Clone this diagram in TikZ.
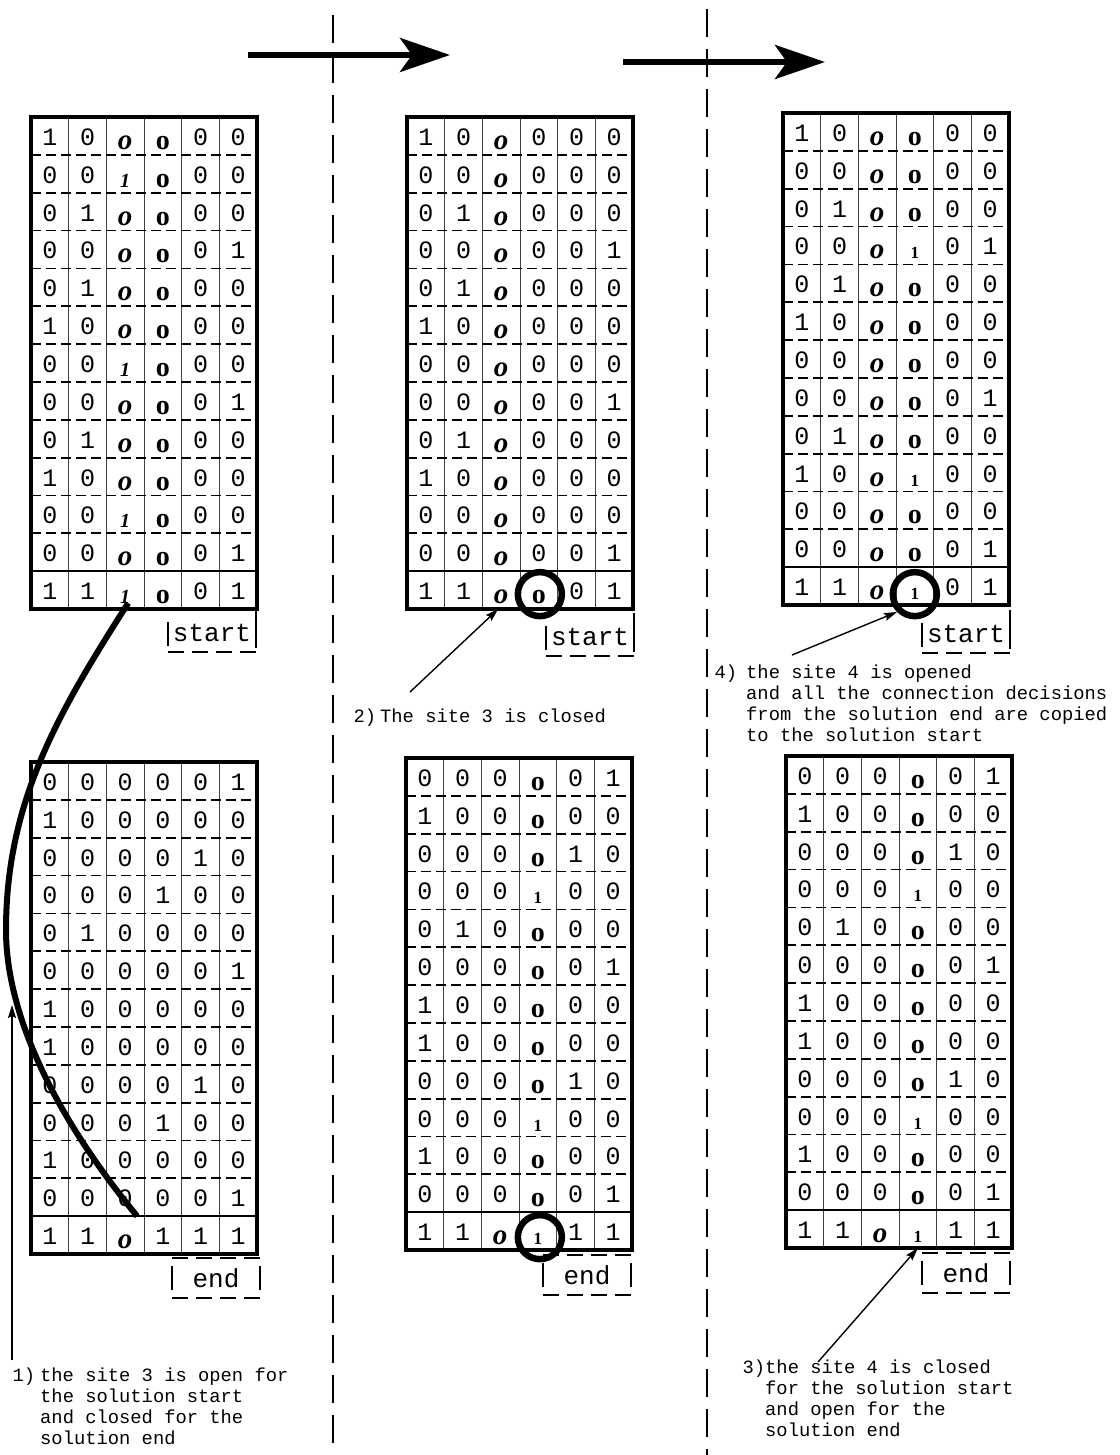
\documentclass[tikz,border=0pt]{standalone}
\usepackage{fontspec}
\usetikzlibrary{matrix,arrows.meta,calc}
\newfontfamily\digfont{Liberation Mono}
\newfontfamily\labfont{Liberation Mono}
\newfontfamily\serfont{Liberation Serif}
\newcommand\cio{\raisebox{-4pt}{\serfont\bfseries\itshape\fontsize{29}{29}\selectfont o}}
\newcommand\cbo{\raisebox{-4pt}{\serfont\bfseries\fontsize{28}{28}\selectfont o}}
\newcommand\cil{\raisebox{-4pt}{\serfont\bfseries\itshape\fontsize{20}{20}\selectfont 1}}
\newcommand\cbl{\raisebox{-4pt}{\serfont\bfseries\fontsize{17}{17}\selectfont 1}}
\tikzset{
  tab/.style={matrix of nodes, inner sep=0pt, outer sep=0pt, column sep=0pt, row sep=0pt, anchor=north west,
    nodes={inner sep=0pt, outer sep=0pt, minimum width=37.67pt, minimum height=37.85pt,
      text height=19pt, text depth=0pt, anchor=center, font=\digfont\fontsize{25}{25}\selectfont}},
  border/.style={line width=4.5pt},
  colline/.style={line width=0.9pt, black!75},
  rowdash/.style={line width=1.8pt, dash pattern=on 10pt off 5pt},
  rowsolid/.style={line width=1.6pt},
  divider/.style={line width=2pt, dash pattern=on 28pt off 12pt},
  bigarrow/.style={line width=6pt, -{Stealth[length=50pt,width=34pt,inset=12pt]}},
  thinarrow/.style={line width=1.4pt, -{Stealth[length=13pt,width=8pt,inset=2pt]}},
  bigcurve/.style={line width=6pt},
  lab/.style={inner sep=0pt, anchor=north west, align=left, font=\labfont\fontsize{18.8}{21}\selectfont},
  circmark/.style={draw, circle, line width=6.5pt, minimum size=44pt, inner sep=0pt},
  tag/.style={inner sep=0pt, minimum width=88pt, minimum height=40pt, font=\labfont\fontsize{26}{26}\selectfont},
  tagdash/.style={line width=1.6pt, dash pattern=on 16pt off 8pt},
  tagbar/.style={line width=1.6pt},
}
\newcommand\tabgrid[1]{%
  \foreach \c in {1,...,5} \draw[colline] (#1-1-\c.north east) -- (#1-13-\c.south east);
  \foreach \r in {1,...,11} \draw[rowdash] (#1-\r-1.south west) -- (#1-\r-6.south east);
  \draw[rowsolid] (#1-12-1.south west) -- (#1-12-6.south east);
  \draw[border] (#1.north west) rectangle (#1.south east);
}
\newcommand\starttag[1]{%
  \draw[tagbar] ($(#1.west)+(0,-11)$) -- ($(#1.west)+(0,13)$);
  \draw[tagbar] ($(#1.north east)+(0,-4)$) -- ($(#1.east)+(0,15)$);
  \draw[tagdash] ($(#1.south west)+(0,-1)$) -- ($(#1.south east)+(0,-1)$);
}
\newcommand\fintag[1]{%
  \draw[tagdash] (#1.north west) -- (#1.north east);
  \draw[tagdash] (#1.south west) -- (#1.south east);
  \draw[tagbar] ($(#1.west)+(0,-12)$) -- ($(#1.west)+(0,12)$);
  \draw[tagbar] ($(#1.east)+(0,-12)$) -- ($(#1.east)+(0,12)$);
}
\begin{document}
\begin{tikzpicture}[x=1pt,y=-1pt]
\useasboundingbox (0,0) rectangle (1119,1455);
\fill[white] (0,0) rectangle (1119,1455);

% dividers
\coordinate (d1a) at (333,15); \coordinate (d1b) at (333,1455);
\coordinate (d2a) at (707,9); \coordinate (d2b) at (707,1455);
\draw[divider] (d1a) -- (d1b);
\draw[divider] (d2a) -- (d2b);

% top arrows
\coordinate (ar1a) at (248,55); \coordinate (ar1b) at (450,55);
\coordinate (ar2a) at (623,62); \coordinate (ar2b) at (825,62);
\draw[bigarrow] (ar1a) -- (ar1b);
\draw[bigarrow] (ar2a) -- (ar2b);

% table 1
\matrix (t1) [tab] at (31,117) {
1 & 0 & \cio & \cbo & 0 & 0 \\
0 & 0 & \cil & \cbo & 0 & 0 \\
0 & 1 & \cio & \cbo & 0 & 0 \\
0 & 0 & \cio & \cbo & 0 & 1 \\
0 & 1 & \cio & \cbo & 0 & 0 \\
1 & 0 & \cio & \cbo & 0 & 0 \\
0 & 0 & \cil & \cbo & 0 & 0 \\
0 & 0 & \cio & \cbo & 0 & 1 \\
0 & 1 & \cio & \cbo & 0 & 0 \\
1 & 0 & \cio & \cbo & 0 & 0 \\
0 & 0 & \cil & \cbo & 0 & 0 \\
0 & 0 & \cio & \cbo & 0 & 1 \\
1 & 1 & \cil & \cbo & 0 & 1 \\
};
\tabgrid{t1}

% table 2
\matrix (t2) [tab] at (407,117) {
1 & 0 & \cio & 0 & 0 & 0 \\
0 & 0 & \cio & 0 & 0 & 0 \\
0 & 1 & \cio & 0 & 0 & 0 \\
0 & 0 & \cio & 0 & 0 & 1 \\
0 & 1 & \cio & 0 & 0 & 0 \\
1 & 0 & \cio & 0 & 0 & 0 \\
0 & 0 & \cio & 0 & 0 & 0 \\
0 & 0 & \cio & 0 & 0 & 1 \\
0 & 1 & \cio & 0 & 0 & 0 \\
1 & 0 & \cio & 0 & 0 & 0 \\
0 & 0 & \cio & 0 & 0 & 0 \\
0 & 0 & \cio & 0 & 0 & 1 \\
1 & 1 & \cio & \cbo & 0 & 1 \\
};
\tabgrid{t2}

% table 3
\matrix (t3) [tab] at (783,113) {
1 & 0 & \cio & \cbo & 0 & 0 \\
0 & 0 & \cio & \cbo & 0 & 0 \\
0 & 1 & \cio & \cbo & 0 & 0 \\
0 & 0 & \cio & \cbl & 0 & 1 \\
0 & 1 & \cio & \cbo & 0 & 0 \\
1 & 0 & \cio & \cbo & 0 & 0 \\
0 & 0 & \cio & \cbo & 0 & 0 \\
0 & 0 & \cio & \cbo & 0 & 1 \\
0 & 1 & \cio & \cbo & 0 & 0 \\
1 & 0 & \cio & \cbl & 0 & 0 \\
0 & 0 & \cio & \cbo & 0 & 0 \\
0 & 0 & \cio & \cbo & 0 & 1 \\
1 & 1 & \cio & \cbl & 0 & 1 \\
};
\tabgrid{t3}

% table 4
\matrix (t4) [tab] at (31,762) {
0 & 0 & 0 & 0 & 0 & 1 \\
1 & 0 & 0 & 0 & 0 & 0 \\
0 & 0 & 0 & 0 & 1 & 0 \\
0 & 0 & 0 & 1 & 0 & 0 \\
0 & 1 & 0 & 0 & 0 & 0 \\
0 & 0 & 0 & 0 & 0 & 1 \\
1 & 0 & 0 & 0 & 0 & 0 \\
1 & 0 & 0 & 0 & 0 & 0 \\
0 & 0 & 0 & 0 & 1 & 0 \\
0 & 0 & 0 & 1 & 0 & 0 \\
1 & 0 & 0 & 0 & 0 & 0 \\
0 & 0 & 0 & 0 & 0 & 1 \\
1 & 1 & \cio & 1 & 1 & 1 \\
};
\tabgrid{t4}

% table 5
\matrix (t5) [tab] at (406,758) {
0 & 0 & 0 & \cbo & 0 & 1 \\
1 & 0 & 0 & \cbo & 0 & 0 \\
0 & 0 & 0 & \cbo & 1 & 0 \\
0 & 0 & 0 & \cbl & 0 & 0 \\
0 & 1 & 0 & \cbo & 0 & 0 \\
0 & 0 & 0 & \cbo & 0 & 1 \\
1 & 0 & 0 & \cbo & 0 & 0 \\
1 & 0 & 0 & \cbo & 0 & 0 \\
0 & 0 & 0 & \cbo & 1 & 0 \\
0 & 0 & 0 & \cbl & 0 & 0 \\
1 & 0 & 0 & \cbo & 0 & 0 \\
0 & 0 & 0 & \cbo & 0 & 1 \\
1 & 1 & \cio & \cbl & 1 & 1 \\
};
\tabgrid{t5}

% table 6
\matrix (t6) [tab] at (786,756) {
0 & 0 & 0 & \cbo & 0 & 1 \\
1 & 0 & 0 & \cbo & 0 & 0 \\
0 & 0 & 0 & \cbo & 1 & 0 \\
0 & 0 & 0 & \cbl & 0 & 0 \\
0 & 1 & 0 & \cbo & 0 & 0 \\
0 & 0 & 0 & \cbo & 0 & 1 \\
1 & 0 & 0 & \cbo & 0 & 0 \\
1 & 0 & 0 & \cbo & 0 & 0 \\
0 & 0 & 0 & \cbo & 1 & 0 \\
0 & 0 & 0 & \cbl & 0 & 0 \\
1 & 0 & 0 & \cbo & 0 & 0 \\
0 & 0 & 0 & \cbo & 0 & 1 \\
1 & 1 & \cio & \cbl & 1 & 1 \\
};
\tabgrid{t6}

% circles
\node[circmark] (c2) at ($(t2-13-4.center)+(1,4)$) {};
\node[circmark] (c3) at ($(t3-13-4.center)+(0,8)$) {};
\node[circmark] (c5) at ($(t5-13-4.center)+(2,6)$) {};

% start / end tags
\node[tag] (s1) at (212,633) {start}; \starttag{s1}
\node[tag] (s2) at (590,637) {start}; \starttag{s2}
\node[tag] (s3) at (966,634) {start}; \starttag{s3}
\node[tag] (e4) at (216,1278) {end}; \fintag{e4}
\node[tag] (e5) at (587,1275) {end}; \fintag{e5}
\node[tag] (e6) at (966,1273) {end}; \fintag{e6}

% big curve
\draw[bigcurve] ($(t1-13-3.south)+(3,-6)$) .. controls (60,710) and (6,800) .. (6,930)
  .. controls (6,1010) and (50,1110) .. ($(t4-13-3.north)+(12,0)$);

% labels
\node[lab] (l1) at (40,1367) {\strut\llap{1)\hspace{5pt}}the site 3 is open for\\the solution start\\and closed for the\\solution end};
\node[lab] (l2) at (380,708) {\strut\llap{2)\hspace{4pt}}The site 3 is closed};
\node[lab] (l4) at (746,664) {\strut\llap{4)\hspace{9pt}}the site 4 is opened\\and all the connection decisions\\from the solution end are copied\\to the solution start};
\node[lab] (l3) at (765,1359) {\strut\llap{3)}the site 4 is closed\\for the solution start\\and open for the\\solution end};

% label arrows
\coordinate (a1s) at (12,1360); \coordinate (a1e) at (12,1005);
\draw[thinarrow] (a1s) -- (a1e);
\coordinate (a2s) at (410,692);
\draw[thinarrow] (a2s) -- ($(t2-13-3.south)+(-3,0)$);
\coordinate (a4s) at (792,655);
\draw[thinarrow] (a4s) -- (c3.south west);
\coordinate (a3s) at (818,1362);
\draw[thinarrow] (a3s) -- (t6-13-4.south);
\end{tikzpicture}
\end{document}
